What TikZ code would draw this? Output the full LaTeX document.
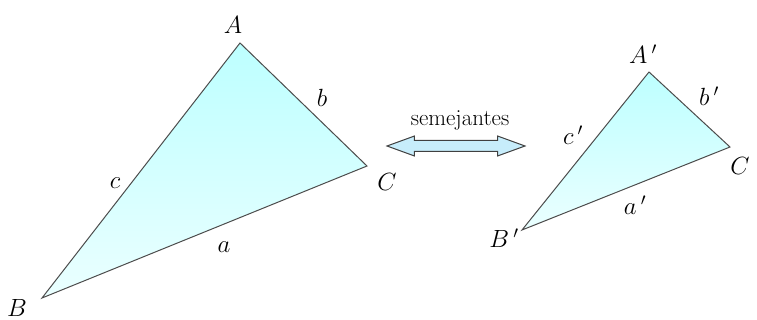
\documentclass[tikz,border=0pt]{standalone}
\usepackage{tikz}
\usetikzlibrary{shapes.arrows}

\begin{document}
\begin{tikzpicture}[x=1pt, y=-1pt,
    tri/.style = {draw=black!70, line width=1pt, top color=cyan!26, bottom color=cyan!8},
    vlabel/.style = {inner sep=0pt, font=\fontsize{25}{27}\selectfont},
    linkarrow/.style = {double arrow, draw=black!75, line width=1pt, fill=cyan!22, minimum height=138pt, inner xsep=0pt, inner ysep=5pt, double arrow head extend=4.5pt, double arrow tip angle=40}]

    \useasboundingbox (0,0) rectangle (757,320);

    % 1. Wierzcholki trojkatow
    \coordinate (A) at (240,43);
    \coordinate (B) at (42,298);
    \coordinate (C) at (367,166);
    \coordinate (A2) at (649,72);
    \coordinate (B2) at (522,230);
    \coordinate (C2) at (730,147);

    % 2. Trojkaty
    \draw[tri] (A) -- (B) -- (C) -- cycle;
    \draw[tri] (A2) -- (B2) -- (C2) -- cycle;

    % 3. Etykiety pierwszego trojkata
    \node[vlabel] (lA) at (233,25) {$A$};
    \node[vlabel] (lb) at (322,98) {$b$};
    \node[vlabel] (lc) at (115,183) {$c$};
    \node[vlabel] (lC) at (387,182) {$C$};
    \node[vlabel] (la) at (224,247) {$a$};
    \node[vlabel] (lB) at (17,308) {$B$};

    % 4. Etykiety drugiego trojkata
    \node[vlabel] (lA2) at (643,54) {$A\,'$};
    \node[vlabel] (lb2) at (709,96) {$b\,'$};
    \node[vlabel] (lc2) at (573,135) {$c\,'$};
    \node[vlabel] (lC2) at (740,166) {$C$};
    \node[vlabel] (la2) at (635,205) {$a\,'$};
    \node[vlabel] (lB2) at (504,238) {$B\,'$};

    % 5. Strzalka i napis
    \node[linkarrow] (link) at (456,146) {};
    \node[inner sep=0pt, font=\fontsize{23}{25}\selectfont] (sem) at (460,120) {semejantes};
\end{tikzpicture}
\end{document}
